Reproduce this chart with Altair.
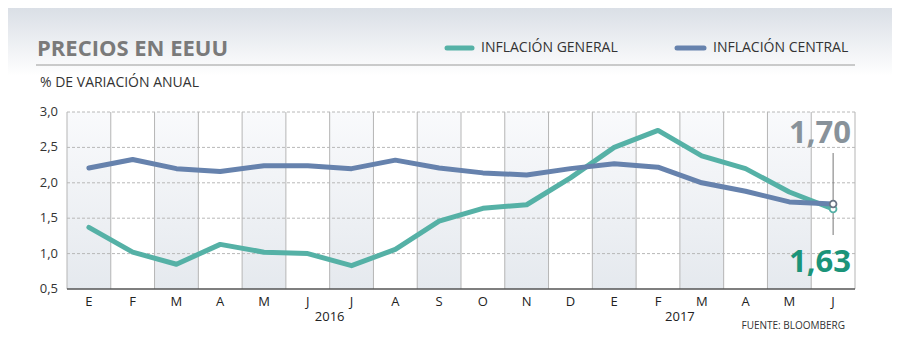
import altair as alt
import pandas as pd

months = ["E", "F", "M", "A", "M", "J", "J", "A", "S", "O", "N", "D",
          "E", "F", "M", "A", "M", "J"]
general = [1.37, 1.02, 0.85, 1.13, 1.02, 1.00, 0.83, 1.06, 1.46, 1.64, 1.69, 2.07,
           2.50, 2.74, 2.38, 2.20, 1.87, 1.63]
central = [2.21, 2.33, 2.20, 2.16, 2.24, 2.24, 2.20, 2.32, 2.21, 2.14, 2.11, 2.20,
           2.27, 2.22, 2.00, 1.88, 1.73, 1.70]
years = ["2016", "2017"]
year_pos = [5.5, 13.5]
y_ticks = [0.5, 1.0, 1.5, 2.0, 2.5, 3.0]

TEAL = "#55b1a6"
BLUE = "#6682ad"
FONT = "Open Sans"

W, H = 788, 177

idx = list(range(len(months)))
df = pd.DataFrame({"i": idx, "m": months, "general": general, "central": central})
df["x0"] = df["i"] - 0.5
df["x1"] = df["i"] + 0.5
long = pd.concat([
    pd.DataFrame({"i": idx, "v": general, "s": "general"}),
    pd.DataFrame({"i": idx, "v": central, "s": "central"}),
])
bounds = pd.DataFrame({"b": [k - 0.5 for k in range(len(months) + 1)]})
yr = pd.DataFrame({"y": years, "p": year_pos})
ticks_df = pd.DataFrame({"t": y_ticks})

xs = alt.Scale(domain=[-0.5, len(months) - 0.5], nice=False, zero=False)
ys = alt.Scale(domain=[0.5, 3.0], nice=False, zero=False)
X = lambda f: alt.X(f, type="quantitative", scale=xs, axis=None)
Y = lambda f: alt.Y(f, type="quantitative", scale=ys, axis=None)

grad_band = alt.LinearGradient(
    gradient="linear", x1=0, y1=0, x2=0, y2=1,
    stops=[alt.GradientStop(color="#f9fafc", offset=0),
           alt.GradientStop(color="#e5e9ee", offset=1)])

bands = alt.Chart(df[df["i"] % 2 == 0]).mark_rect(fill=grad_band).encode(
    x=X("x0"), x2="x1", y=alt.value(0), y2=alt.value(H))

grid = alt.Chart(ticks_df[ticks_df["t"] > 0.5]).mark_rule(
    color="#b8b8b8", strokeDash=[3, 2], strokeWidth=1).encode(y=Y("t"))

ylab = alt.Chart(ticks_df).mark_text(
    font=FONT, fontSize=13, color="#333333", align="right", baseline="middle").transform_calculate(
    lab="replace(format(datum.t, '.1f'), '.', ',')").encode(
    x=alt.value(-9), y=Y("t"), text="lab:N")

vlines = alt.Chart(bounds).mark_rule(color="#b5b5b5", strokeWidth=1).encode(
    x=X("b"), y=alt.value(0), y2=alt.value(H))

baseline = alt.Chart(pd.DataFrame({"a": [0]})).mark_rule(
    color="#555555", strokeWidth=1.5).encode(
    x=alt.value(0), x2=alt.value(W), y=alt.value(H))

lines = alt.Chart(long).mark_line(strokeWidth=5, strokeJoin="round", strokeCap="round").encode(
    x=X("i"), y=Y("v"),
    color=alt.Color("s:N", scale=alt.Scale(domain=["general", "central"], range=[TEAL, BLUE]),
                    legend=None),
    order=alt.Order("i:Q"))

last = df.iloc[[-1]]
vmark = alt.Chart(last).mark_rule(color="#777777", strokeWidth=1).encode(
    x=X("i"), y=alt.value(41), y2=alt.value(123))

dots = alt.Chart(long[long["i"] == len(months) - 1]).mark_point(
    filled=True, size=45, fill="white", strokeWidth=1.8, opacity=1).encode(
    x=X("i"), y=Y("v"),
    stroke=alt.Stroke("s:N", scale=alt.Scale(domain=["general", "central"], range=[TEAL, "#6b7585"]),
                      legend=None))

lab70 = alt.Chart(last).mark_text(
    font=FONT, fontWeight="bold", fontSize=31, color="#88929a", align="right",
    baseline="alphabetic", dx=-4).transform_calculate(
    t="replace(format(datum.central, '.2f'), '.', ',')").encode(
    x=X("x1"), y=alt.value(31), text="t:N")

lab63 = alt.Chart(last).mark_text(
    font=FONT, fontWeight="bold", fontSize=31, color="#1b9479", align="right",
    baseline="alphabetic", dx=-4).transform_calculate(
    t="replace(format(datum.general, '.2f'), '.', ',')").encode(
    x=X("x1"), y=alt.value(160), text="t:N")

mlabels = alt.Chart(df).mark_text(
    font=FONT, fontSize=13, color="#222222", baseline="middle").encode(
    x=X("i"), y=alt.value(190), text="m:N")

ylabels = alt.Chart(yr).mark_text(
    font=FONT, fontSize=13, color="#222222", baseline="middle").encode(
    x=X("p"), y=alt.value(205), text="y:N")

source = alt.Chart(pd.DataFrame({"t": ["FUENTE: BLOOMBERG"]})).mark_text(
    font=FONT, fontSize=10, color="#333333", align="right", baseline="middle").encode(
    x=alt.value(778), y=alt.value(214), text="t:N")

grad_head = alt.LinearGradient(
    gradient="linear", x1=0, y1=0, x2=0, y2=1,
    stops=[alt.GradientStop(color="#dadfe6", offset=0),
           alt.GradientStop(color="#ffffff", offset=1)])
header = alt.Chart(pd.DataFrame({"a": [0]})).mark_rect(fill=grad_head).encode(
    x=alt.value(-59), x2=alt.value(829), y=alt.value(-104), y2=alt.value(-36))

title = alt.Chart(pd.DataFrame({"t": ["PRECIOS EN EEUU"]})).mark_text(
    font=FONT, fontWeight="bold", fontSize=22, color="#7a7a7a", align="left",
    baseline="alphabetic").encode(x=alt.value(-30), y=alt.value(-56), text="t:N")

hline = alt.Chart(pd.DataFrame({"a": [0]})).mark_rule(color="#9a9a9a", strokeWidth=1).encode(
    x=alt.value(-31), x2=alt.value(788), y=alt.value(-47))

subtitle = alt.Chart(pd.DataFrame({"t": ["% DE VARIACIÓN ANUAL"]})).mark_text(
    font=FONT, fontSize=14, color="#333333", align="left", baseline="middle").encode(
    x=alt.value(-27), y=alt.value(-29), text="t:N")

leg = pd.DataFrame({"s": ["general", "central"],
                    "lab": ["INFLACIÓN GENERAL", "INFLACIÓN CENTRAL"],
                    "x0": [380, 610], "x1": [405, 637], "xt": [414, 646]})
cs = alt.Scale(domain=["general", "central"], range=[TEAL, BLUE])
legsw = alt.Chart(leg).mark_rule(strokeWidth=5, strokeCap="round").encode(
    x=alt.X("x0:Q", scale=None), x2="x1:Q", y=alt.value(-64),
    color=alt.Color("s:N", scale=cs, legend=None))
legtx = alt.Chart(leg).mark_text(
    font=FONT, fontSize=14, color="#333333", align="left", baseline="middle").encode(
    x=alt.X("xt:Q", scale=None), y=alt.value(-64), text="lab:N")

chart = alt.layer(
    header, title, hline, subtitle, legsw, legtx,
    bands, grid, ylab, vlines, baseline, lines, vmark, dots, lab70, lab63,
    mlabels, ylabels, source
).resolve_scale(x="independent", color="independent").properties(
    width=W, height=H,
    autosize=alt.AutoSizeParams(type="none"),
    padding={"left": 59, "top": 104, "right": 37, "bottom": 63},
).configure_view(stroke=None)

chart.save("out.html", embed_options={"renderer": "svg", "actions": False})
